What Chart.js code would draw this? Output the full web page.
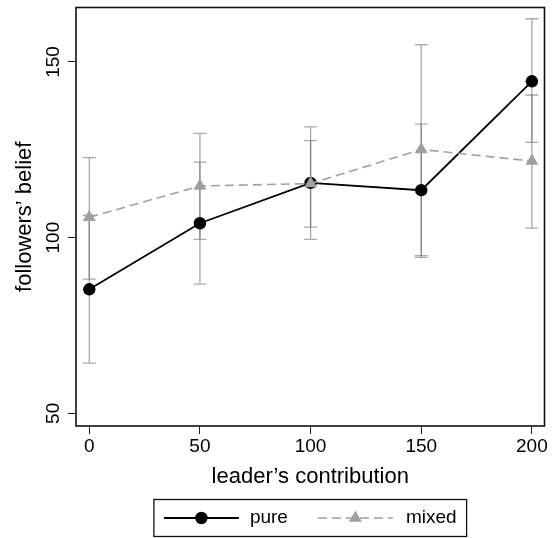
<!DOCTYPE html>
<html>
<head>
<meta charset="utf-8">
<title>followers’ belief by leader’s contribution</title>
<script src="https://cdn.jsdelivr.net/npm/chart.js@4/dist/chart.umd.min.js"></script>
<style>
  html, body { margin: 0; padding: 0; background: #fff; }
  canvas { display: block; }
</style>
</head>
<body>
<canvas id="chart" width="552" height="538"></canvas>
<script>
// Data
const contributions = [0, 50, 100, 150, 200];
const pureMean  = [85.3, 104.1, 115.6, 113.5, 144.5];
const pureLow   = [64.3, 86.8, 99.5, 94.4, 127.1];
const pureHigh  = [106.3, 121.5, 131.5, 132.3, 162.3];
const mixedMean = [105.8, 114.7, 115.4, 125.1, 121.8];
const mixedLow  = [88.2, 99.5, 103.0, 94.9, 102.7];
const mixedHigh = [122.8, 129.7, 127.6, 154.9, 140.6];
const xTicks = [0, 50, 100, 150, 200];
const yTicks = [50, 100, 150];

// Styles
const FONT = "'Liberation Sans', Arial, Helvetica, sans-serif";
const GRAY = '#a0a0a0';
const BAR_COLOR = 'rgba(100,100,100,0.55)';
const DASH = [9, 5];

const toPoints = (ys) => contributions.map((x, i) => ({ x, y: ys[i] }));

// Confidence interval caps, drawn under the lines
const errorBars = {
  id: 'errorBars',
  beforeDatasetsDraw(chart) {
    const { ctx, scales: { x, y } } = chart;
    const half = 6.5;
    ctx.save();
    ctx.strokeStyle = BAR_COLOR;
    ctx.lineWidth = 1.3;
    [[pureLow, pureHigh], [mixedLow, mixedHigh]].forEach(([lows, highs]) => {
      contributions.forEach((c, i) => {
        const px = x.getPixelForValue(c);
        const lo = y.getPixelForValue(lows[i]);
        const hi = y.getPixelForValue(highs[i]);
        ctx.beginPath();
        ctx.moveTo(px, lo); ctx.lineTo(px, hi);
        ctx.moveTo(px - half, lo); ctx.lineTo(px + half, lo);
        ctx.moveTo(px - half, hi); ctx.lineTo(px + half, hi);
        ctx.stroke();
      });
    });
    ctx.restore();
  }
};

// Box round the plot region
const frame = {
  id: 'frame',
  afterDatasetsDraw(chart) {
    const { ctx, chartArea: a } = chart;
    ctx.save();
    ctx.strokeStyle = '#111';
    ctx.lineWidth = 1.6;
    ctx.strokeRect(a.left, a.top, a.right - a.left, a.bottom - a.top);
    ctx.restore();
  }
};

function marker(ctx, style, x, y, r, color) {
  ctx.fillStyle = color;
  ctx.beginPath();
  if (style === 'triangle') {
    let rad = 0;
    ctx.moveTo(x + Math.sin(rad) * r, y - Math.cos(rad) * r);
    rad += 2 * Math.PI / 3;
    ctx.lineTo(x + Math.sin(rad) * r, y - Math.cos(rad) * r);
    rad += 2 * Math.PI / 3;
    ctx.lineTo(x + Math.sin(rad) * r, y - Math.cos(rad) * r);
    ctx.closePath();
  } else {
    ctx.arc(x, y, r, 0, Math.PI * 2);
  }
  ctx.fill();
}

// Boxed legend under the axis title
const legendBox = {
  id: 'legendBox',
  afterDraw(chart) {
    const { ctx, chartArea: a } = chart;
    const sets = chart.data.datasets.slice().sort((p, q) => p.legendIndex - q.legendIndex);
    ctx.save();
    ctx.font = `19px ${FONT}`;
    const lineLen = 75, padIn = 10, gapText = [11, 13], gapItem = 30;
    const widths = sets.map(d => ctx.measureText(d.label).width);
    const total = padIn * 2 + lineLen * 2 + gapText[0] + gapText[1] + gapItem + widths[0] + widths[1];
    const left = (a.left + a.right) / 2 - total / 2;
    const top = 499.5, h = 37, cy = top + h / 2;
    ctx.strokeStyle = '#111';
    ctx.lineWidth = 1.3;
    ctx.strokeRect(left, top, total, h);
    let x = left + padIn;
    sets.forEach((d, i) => {
      ctx.strokeStyle = d.borderColor;
      ctx.lineWidth = d.borderWidth;
      ctx.setLineDash(d.borderDash || []);
      ctx.beginPath();
      ctx.moveTo(x, cy); ctx.lineTo(x + lineLen, cy);
      ctx.stroke();
      ctx.setLineDash([]);
      marker(ctx, d.pointStyle, x + lineLen / 2, cy, d.pointRadius, d.pointBackgroundColor);
      x += lineLen + gapText[i];
      ctx.fillStyle = '#000';
      ctx.textBaseline = 'middle';
      ctx.textAlign = 'left';
      ctx.fillText(d.label, x, cy);
      x += widths[i] + gapItem;
    });
    ctx.restore();
  }
};

new Chart(document.getElementById('chart'), {
  type: 'line',
  data: {
    datasets: [
      {
        label: 'mixed',
        legendIndex: 1,
        order: 0,
        data: toPoints(mixedMean),
        borderColor: GRAY,
        borderWidth: 1.6,
        borderDash: DASH,
        pointStyle: 'triangle',
        pointRadius: 7.5,
        pointBackgroundColor: GRAY,
        pointBorderWidth: 0,
        tension: 0
      },
      {
        label: 'pure',
        legendIndex: 0,
        order: 1,
        data: toPoints(pureMean),
        borderColor: '#000',
        borderWidth: 1.8,
        pointStyle: 'circle',
        pointRadius: 6.2,
        pointBackgroundColor: '#000',
        pointBorderWidth: 0,
        tension: 0
      }
    ]
  },
  options: {
    responsive: false,
    animation: false,
    layout: { padding: { left: 0, top: 7, right: 6, bottom: 47 } },
    plugins: { legend: { display: false }, tooltip: { enabled: false } },
    scales: {
      x: {
        type: 'linear',
        min: -6,
        max: 205.7,
        afterBuildTicks: (s) => { s.ticks = xTicks.map(v => ({ value: v })); },
        afterFit: (s) => { s.height = 65; s.paddingLeft = 0; s.paddingRight = 0; },
        border: { display: false },
        grid: { drawOnChartArea: false, drawTicks: true, tickLength: 8, color: '#222', lineWidth: 1 },
        ticks: { padding: 1, maxRotation: 0, color: '#000', font: { family: FONT, size: 19 } },
        title: {
          display: true, text: 'leader’s contribution', color: '#000',
          font: { family: FONT, size: 22 }, padding: { top: 0, bottom: 1 }
        }
      },
      y: {
        type: 'linear',
        min: 46.4,
        max: 165.5,
        afterBuildTicks: (s) => { s.ticks = yTicks.map(v => ({ value: v })); },
        afterFit: (s) => { s.width = 76; s.paddingTop = 0; s.paddingBottom = 0; },
        border: { display: false },
        grid: { drawOnChartArea: false, drawTicks: true, tickLength: 8, color: '#222', lineWidth: 1 },
        ticks: {
          minRotation: 90, maxRotation: 90, crossAlign: 'center', padding: -2,
          color: '#000', font: { family: FONT, size: 19 }
        },
        title: {
          display: true, text: 'followers’ belief', color: '#000',
          font: { family: FONT, size: 22 }, padding: { top: 12, bottom: 0 }
        }
      }
    }
  },
  plugins: [errorBars, frame, legendBox]
});
</script>
</body>
</html>
